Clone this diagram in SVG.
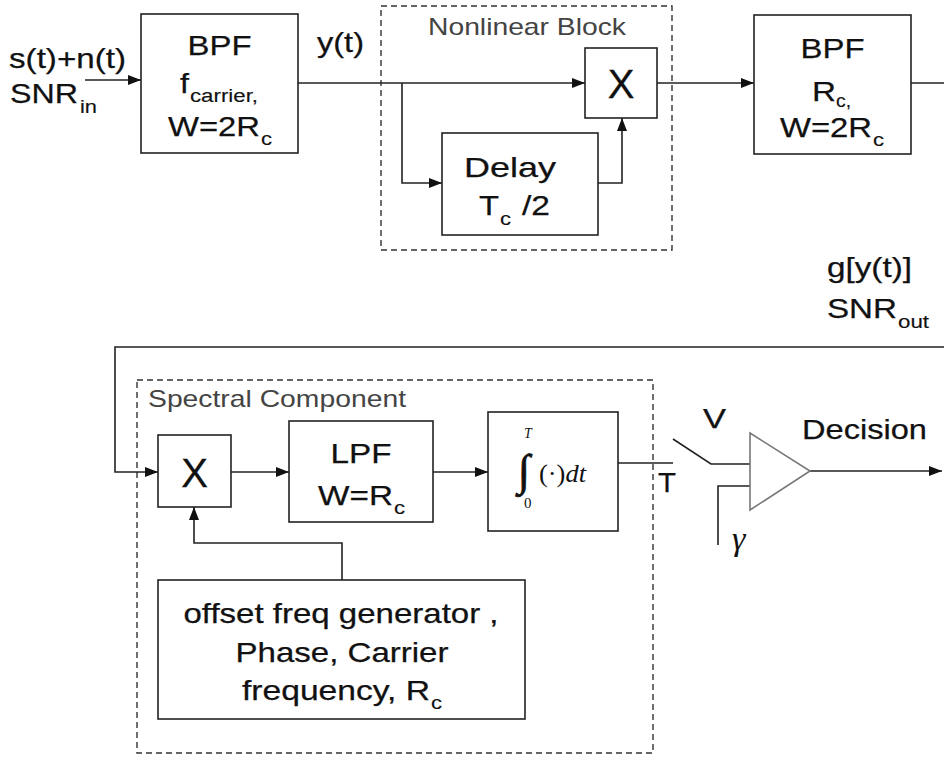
<svg xmlns="http://www.w3.org/2000/svg" width="944" height="757" viewBox="0 0 944 757">
<style>
.t{font-family:"Liberation Sans",Arial,sans-serif;font-size:28px;fill:#111;stroke:#111;stroke-width:0.25}
.s{font-family:"Liberation Sans",Arial,sans-serif;font-size:18px;fill:#111;stroke:#111;stroke-width:0.15}
.x{font-family:"Liberation Sans",Arial,sans-serif;font-size:40px;fill:#111;stroke:#111;stroke-width:0.3}
.g{font-family:"Liberation Sans",Arial,sans-serif;font-size:24px;fill:#444}
.m{font-family:"Liberation Serif","Times New Roman",serif;fill:#111}
.box{fill:#fff;stroke:#222;stroke-width:1.6}
.dash{fill:none;stroke:#333;stroke-width:1.4;stroke-dasharray:6 4}
.ln{fill:none;stroke:#222;stroke-width:1.6}
.tri{fill:#fff;stroke:#777;stroke-width:1.6}
</style>
<defs>
<marker id="ah" markerUnits="userSpaceOnUse" markerWidth="14" markerHeight="10" refX="13" refY="5" orient="auto">
<path d="M0,0 L13,5 L0,10 z" fill="#111"/>
</marker>
</defs>
<rect width="944" height="757" fill="#fff"/>

<g id="nonlinear-block">
<rect class="dash" x="381" y="6" width="291" height="244"/>
<text class="g" x="428" y="35" textLength="198" lengthAdjust="spacingAndGlyphs">Nonlinear Block</text>
</g>
<g id="spectral-component">
<rect class="dash" x="137" y="380" width="516" height="373"/>
<text class="g" x="148" y="407" textLength="258" lengthAdjust="spacingAndGlyphs">Spectral Component</text>
</g>

<g id="connectors">
<path class="ln" d="M85,80 H141" marker-end="url(#ah)"/>
<path class="ln" d="M298,83 H585" marker-end="url(#ah)"/>
<path class="ln" d="M402,83 V183 H442" marker-end="url(#ah)"/>
<path class="ln" d="M598,183 H622 V118" marker-end="url(#ah)"/>
<path class="ln" d="M657,83 H754" marker-end="url(#ah)"/>
<path class="ln" d="M911,83 H944"/>
<path class="ln" d="M944,347 H115 V472 H158" marker-end="url(#ah)"/>
<path class="ln" d="M231,472 H289" marker-end="url(#ah)"/>
<path class="ln" d="M433,472 H488" marker-end="url(#ah)"/>
<path class="ln" d="M618,463 H673"/>
<path class="ln" d="M673,439 L711,464 H750"/>
<path class="ln" d="M718,545 V486 H750"/>
<path class="ln" d="M810,471 H942" marker-end="url(#ah)"/>
<path class="ln" d="M342,580 V543 H194 V507" marker-end="url(#ah)"/>
</g>

<g id="input-label">
<text class="t" x="9" y="68" textLength="117" lengthAdjust="spacingAndGlyphs">s(t)+n(t)</text>
<text class="t" x="10" y="103" textLength="68" lengthAdjust="spacingAndGlyphs">SNR</text>
<text class="s" x="80" y="113" textLength="17" lengthAdjust="spacingAndGlyphs">in</text>
</g>

<g id="bpf1">
<rect class="box" x="141" y="14" width="157" height="139"/>
<text class="t" x="219.5" y="55" text-anchor="middle" textLength="64" lengthAdjust="spacingAndGlyphs">BPF</text>
<text class="t" x="180" y="93" textLength="9" lengthAdjust="spacingAndGlyphs">f</text>
<text class="s" x="190" y="102" textLength="68" lengthAdjust="spacingAndGlyphs">carrier,</text>
<text class="t" x="168" y="136" textLength="92" lengthAdjust="spacingAndGlyphs">W=2R</text>
<text class="s" x="261" y="145" textLength="11" lengthAdjust="spacingAndGlyphs">c</text>
</g>

<g id="yt-label">
<text class="t" x="317" y="52" textLength="47" lengthAdjust="spacingAndGlyphs">y(t)</text>
</g>

<g id="multiplier1">
<rect class="box" x="585" y="48" width="72" height="70"/>
<text class="x" x="621" y="98" text-anchor="middle">X</text>
</g>

<g id="delay">
<rect class="box" x="442" y="133" width="156" height="102"/>
<text class="t" x="510" y="177" text-anchor="middle" textLength="92" lengthAdjust="spacingAndGlyphs">Delay</text>
<text class="t" x="479" y="215" textLength="20" lengthAdjust="spacingAndGlyphs">T</text>
<text class="s" x="500" y="225" textLength="11" lengthAdjust="spacingAndGlyphs">c</text>
<text class="t" x="522" y="215" textLength="28" lengthAdjust="spacingAndGlyphs">/2</text>
</g>

<g id="bpf2">
<rect class="box" x="754" y="15" width="157" height="139"/>
<text class="t" x="832.5" y="58" text-anchor="middle" textLength="64" lengthAdjust="spacingAndGlyphs">BPF</text>
<text class="t" x="812" y="101" textLength="24" lengthAdjust="spacingAndGlyphs">R</text>
<text class="s" x="836" y="107" textLength="15" lengthAdjust="spacingAndGlyphs">c,</text>
<text class="t" x="780" y="137" textLength="92" lengthAdjust="spacingAndGlyphs">W=2R</text>
<text class="s" x="873" y="146" textLength="11" lengthAdjust="spacingAndGlyphs">c</text>
</g>

<g id="output-label">
<text class="t" x="827" y="277" textLength="85" lengthAdjust="spacingAndGlyphs">g[y(t)]</text>
<text class="t" x="827" y="318" textLength="70" lengthAdjust="spacingAndGlyphs">SNR</text>
<text class="s" x="898" y="328" textLength="31" lengthAdjust="spacingAndGlyphs">out</text>
</g>

<g id="multiplier2">
<rect class="box" x="158" y="435" width="73" height="72"/>
<text class="x" x="194.5" y="487" text-anchor="middle">X</text>
</g>

<g id="lpf">
<rect class="box" x="289" y="421" width="144" height="101"/>
<text class="t" x="361" y="463" text-anchor="middle" textLength="61" lengthAdjust="spacingAndGlyphs">LPF</text>
<text class="t" x="318" y="505" textLength="75" lengthAdjust="spacingAndGlyphs">W=R</text>
<text class="s" x="394" y="514" textLength="11" lengthAdjust="spacingAndGlyphs">c</text>
</g>

<g id="integrator">
<rect class="box" x="488" y="412" width="130" height="119"/>
<text class="m" x="518" y="485" font-size="44" stroke="#111" stroke-width="0.8">∫</text>
<text class="m" x="524" y="438" font-size="14" font-style="italic">T</text>
<text class="m" x="524" y="508" font-size="15">0</text>
<text class="m" x="539" y="482" font-size="26" textLength="47" lengthAdjust="spacingAndGlyphs">(·)<tspan font-style="italic">dt</tspan></text>
</g>

<g id="sampler">
<text class="t" x="658" y="492" textLength="18" lengthAdjust="spacingAndGlyphs" stroke-width="0">T</text>
<text class="t" x="703" y="428" textLength="23" lengthAdjust="spacingAndGlyphs">V</text>
</g>

<g id="comparator">
<polygon class="tri" points="750,433 750,510 810,471"/>
<text class="m" x="732" y="550" font-size="34" font-style="italic">γ</text>
<text class="t" x="802" y="439" textLength="125" lengthAdjust="spacingAndGlyphs">Decision</text>
</g>

<g id="generator">
<rect class="box" x="158" y="580" width="367" height="139"/>
<text class="t" x="341" y="623" text-anchor="middle" textLength="315" lengthAdjust="spacingAndGlyphs">offset freq generator ,</text>
<text class="t" x="342" y="662" text-anchor="middle" textLength="213" lengthAdjust="spacingAndGlyphs">Phase, Carrier</text>
<text class="t" x="242" y="700" textLength="188" lengthAdjust="spacingAndGlyphs">frequency, R</text>
<text class="s" x="431" y="709" textLength="11" lengthAdjust="spacingAndGlyphs">c</text>
</g>
</svg>
